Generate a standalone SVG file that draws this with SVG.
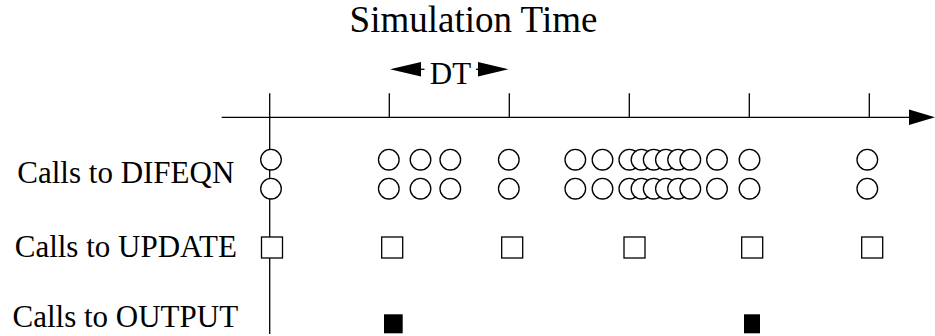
<svg xmlns="http://www.w3.org/2000/svg" width="935" height="336" viewBox="0 0 935 336">
  <style>
    .lbl { font-family: "Liberation Serif", "Times New Roman", serif; fill: #000; }
    .ln { stroke: #000; stroke-width: 1.3; fill: none; }
    .call { fill: #fff; stroke: #000; stroke-width: 1.3; }
    .out { fill: #000; stroke: none; }
  </style>

  <rect x="0" y="0" width="935" height="336" fill="#fff"/>

  <!-- title -->
  <text class="lbl" x="473.5" y="32" font-size="37" text-anchor="middle">Simulation Time</text>

  <!-- time axis with ticks -->
  <g id="axis">
    <line class="ln" x1="221.7" y1="117.3" x2="911" y2="117.3"/>
    <polygon points="909,109.5 935,117.3 909,125" fill="#000"/>
    <line class="ln" x1="269.7" y1="93.3" x2="269.7" y2="334"/>
    <line class="ln" x1="389.3" y1="93.3" x2="389.3" y2="117.3"/>
    <line class="ln" x1="509.3" y1="93.3" x2="509.3" y2="117.3"/>
    <line class="ln" x1="629.3" y1="93.3" x2="629.3" y2="117.3"/>
    <line class="ln" x1="749.3" y1="93.3" x2="749.3" y2="117.3"/>
    <line class="ln" x1="869.3" y1="93.3" x2="869.3" y2="117.3"/>
  </g>

  <!-- DT interval marker -->
  <g id="dt">
    <text class="lbl" x="450.5" y="84.3" font-size="31" text-anchor="middle">DT</text>
    <line class="ln" x1="419" y1="69.3" x2="424.5" y2="69.3"/>
    <polygon points="390,69.3 421,62 421,76.6" fill="#000"/>
    <line class="ln" x1="476" y1="69.3" x2="480" y2="69.3"/>
    <polygon points="508.5,69.3 478,62 478,76.6" fill="#000"/>
  </g>

  <!-- row labels -->
  <g id="labels">
    <text class="lbl" x="125.8" y="183.3" font-size="31" text-anchor="middle">Calls to DIFEQN</text>
    <text class="lbl" x="125.8" y="256.7" font-size="31" text-anchor="middle">Calls to UPDATE</text>
    <text class="lbl" x="125.3" y="326.7" font-size="31" text-anchor="middle">Calls to OUTPUT</text>
  </g>

  <!-- DIFEQN calls: two rows of circles -->
  <g id="difeqn">
    <g id="difeqn-row1">
      <circle class="call" cx="271" cy="159.7" r="10.3"/>
      <circle class="call" cx="388.8" cy="159.7" r="10.3"/>
      <circle class="call" cx="420.5" cy="159.7" r="10.3"/>
      <circle class="call" cx="450.3" cy="159.7" r="10.3"/>
      <circle class="call" cx="508.8" cy="159.7" r="10.3"/>
      <circle class="call" cx="575.3" cy="159.7" r="10.3"/>
      <circle class="call" cx="602.5" cy="159.7" r="10.3"/>
      <circle class="call" cx="629.3" cy="159.7" r="10.3"/>
      <circle class="call" cx="641.5" cy="159.7" r="10.3"/>
      <circle class="call" cx="653.7" cy="159.7" r="10.3"/>
      <circle class="call" cx="665.9" cy="159.7" r="10.3"/>
      <circle class="call" cx="678.1" cy="159.7" r="10.3"/>
      <circle class="call" cx="690.3" cy="159.7" r="10.3"/>
      <circle class="call" cx="717" cy="159.7" r="10.3"/>
      <circle class="call" cx="749.5" cy="159.7" r="10.3"/>
      <circle class="call" cx="867.3" cy="159.7" r="10.3"/>
    </g>
    <g id="difeqn-row2">
      <circle class="call" cx="271" cy="188.7" r="10.3"/>
      <circle class="call" cx="388.8" cy="188.7" r="10.3"/>
      <circle class="call" cx="420.5" cy="188.7" r="10.3"/>
      <circle class="call" cx="450.3" cy="188.7" r="10.3"/>
      <circle class="call" cx="508.8" cy="188.7" r="10.3"/>
      <circle class="call" cx="575.3" cy="188.7" r="10.3"/>
      <circle class="call" cx="602.5" cy="188.7" r="10.3"/>
      <circle class="call" cx="629.3" cy="188.7" r="10.3"/>
      <circle class="call" cx="641.5" cy="188.7" r="10.3"/>
      <circle class="call" cx="653.7" cy="188.7" r="10.3"/>
      <circle class="call" cx="665.9" cy="188.7" r="10.3"/>
      <circle class="call" cx="678.1" cy="188.7" r="10.3"/>
      <circle class="call" cx="690.3" cy="188.7" r="10.3"/>
      <circle class="call" cx="717" cy="188.7" r="10.3"/>
      <circle class="call" cx="749.5" cy="188.7" r="10.3"/>
      <circle class="call" cx="867.3" cy="188.7" r="10.3"/>
    </g>
  </g>

  <!-- UPDATE calls: open squares -->
  <g id="update">
    <rect class="call" x="261.5" y="237" width="21" height="21"/>
    <rect class="call" x="381.7" y="237" width="21" height="21"/>
    <rect class="call" x="501.7" y="237" width="21" height="21"/>
    <rect class="call" x="624" y="237" width="21" height="21"/>
    <rect class="call" x="741.7" y="237" width="21" height="21"/>
    <rect class="call" x="861.7" y="237" width="21" height="21"/>
  </g>

  <!-- OUTPUT calls: filled squares -->
  <g id="output">
    <rect class="out" x="384" y="314.3" width="18.7" height="19"/>
    <rect class="out" x="744" y="314.3" width="16" height="19"/>
  </g>
</svg>
